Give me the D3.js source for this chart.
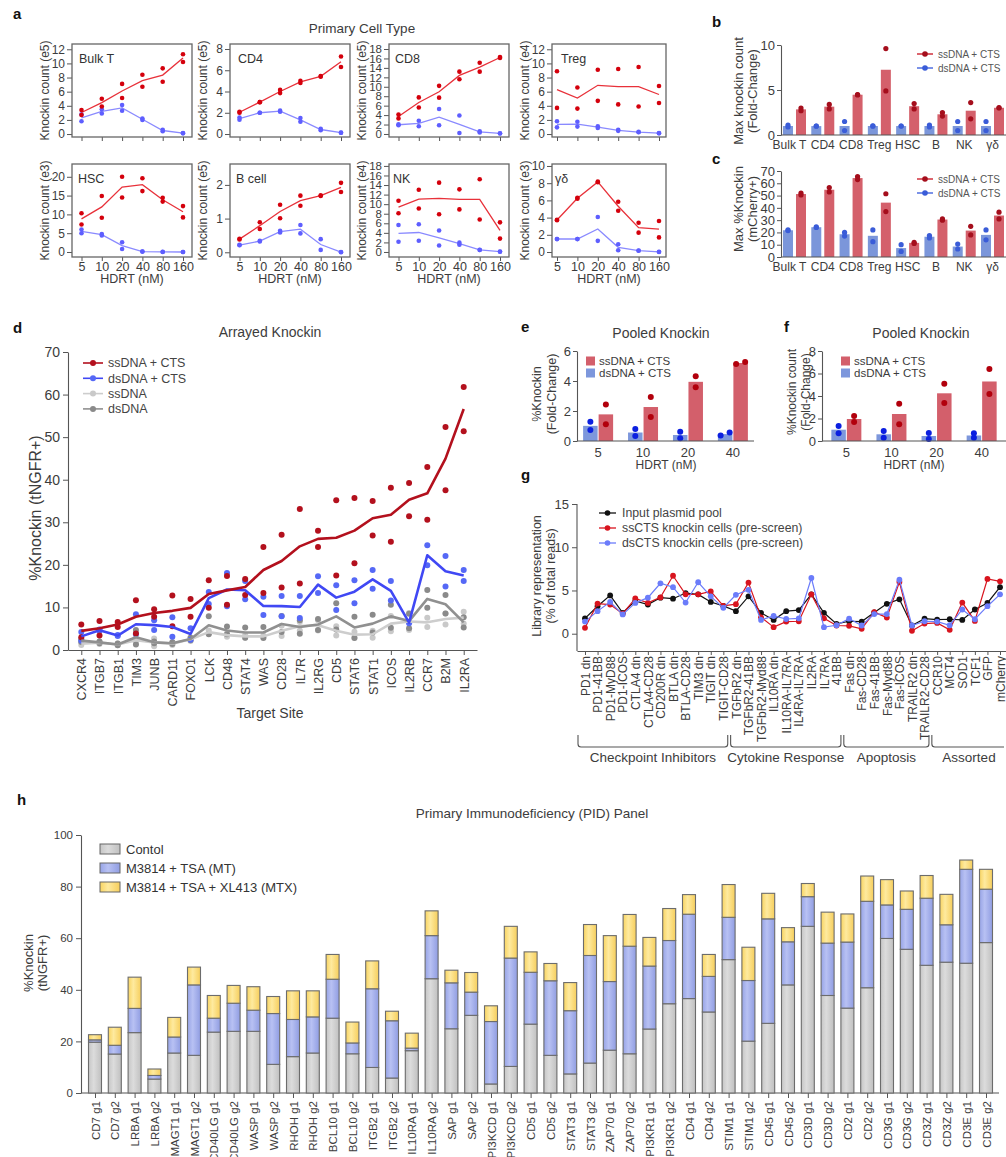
<!DOCTYPE html>
<html>
<head>
<meta charset="utf-8">
<script src="https://cdn.jsdelivr.net/npm/d3@7"></script>
<style>
  html, body { margin: 0; padding: 0; background: #fff; overflow: hidden; }
  svg { display: block; }
</style>
</head>
<body>
<svg id="fig" width="1006" height="1157"></svg>
<script>
// ===================== DATA =====================

// --- a: knockin counts by HDRT dose, two replicates per dose ---
const hdrtConc = ["5", "10", "20", "40", "80", "160"];
const cellTypes = ["Bulk T", "CD4", "CD8", "Treg", "HSC", "B cell", "NK", "γδ"];
const countScale = ["e5", "e5", "e5", "e4", "e3", "e5", "e4", "e3"];
const ssBulkT = [[3.4, 2.7], [5.0, 3.9], [7.1, 5.1], [8.4, 6.7], [9.3, 7.4], [11.3, 10.2]];
const dsBulkT = [[1.8, 2.8], [2.9, 3.5], [3.3, 4.1], [2.0, 2.2], [0.4, 0.6], [0.1, 0.15]];
const ssCD4 = [[2.1, 2.0], [3.0, 3.0], [4.15, 3.85], [5.0, 4.8], [5.4, 5.45], [7.3, 6.3]];
const dsCD4 = [[1.55, 1.35], [2.0, 2.0], [2.2, 2.1], [1.5, 1.15], [0.5, 0.35], [0.13, 0.12]];
const ssCD8 = [[4.1, 3.3], [7.75, 5.6], [10.2, 7.7], [13.2, 11.6], [15.1, 13.2], [16.3, 16.1]];
const dsCD8 = [[2.05, 1.85], [2.8, 1.65], [5.3, 1.85], [3.9, 0.2], [0.55, 0.3], [0.15, 0.1]];
const ssTreg = [[8.9, 3.7], [6.6, 3.6], [9.1, 4.7], [9.2, 4.2], [9.5, 3.9], [6.8, 4.4]];
const dsTreg = [[1.8, 0.95], [1.75, 1.05], [1.1, 0.85], [0.6, 0.45], [0.3, 0.25], [0.15, 0.1]];
const ssHSC = [[10.3, 7.3], [14.9, 9.1], [20.0, 14.5], [19.6, 16.2], [14.4, 13.4], [12.2, 9.2]];
const dsHSC = [[6.0, 5.0], [4.8, 4.4], [2.6, 0.8], [0.15, 0.1], [0.05, 0.0], [0.0, 0.0]];
const ssBcell = [[0.4, 0.38], [0.89, 0.69], [1.41, 1.01], [1.68, 1.38], [1.69, 1.67], [2.06, 1.79]];
const dsBcell = [[0.22, 0.21], [0.34, 0.32], [0.64, 0.59], [0.81, 0.56], [0.39, 0.07], [0.01, 0.0]];
const ssNK = [[10.7, 8.1], [13.0, 9.1], [14.5, 7.9], [13.1, 8.9], [15.2, 6.8], [6.2, 2.8]];
const dsNK = [[5.65, 2.15], [5.8, 2.35], [4.5, 1.35], [1.95, 1.5], [0.45, 0.4], [0.1, 0.05]];
const ssGD = [[3.75, 3.7], [6.3, 6.2], [8.2, 8.1], [5.85, 4.8], [3.4, 2.25], [3.6, 1.7]];
const dsGD = [[1.52, 1.5], [1.52, 1.5], [4.07, 1.3], [0.9, 0.2], [0.17, 0.14], [0.03, 0.0]];

// --- b / c: maximum knockin per cell type ---
const bcTypes = ["Bulk T", "CD4", "CD8", "Treg", "HSC", "B", "NK", "γδ"];
const foldSsReps = [[3.0, 2.7], [3.4, 2.9], [4.5, 4.45], [9.6, 4.9], [3.5, 2.9], [2.5, 2.1], [3.6, 1.8], [3.05, 3.0]];
const foldDsReps = [[1.1, 0.9], [1.0, 0.98], [1.5, 0.5], [1.02, 0.98], [1.0, 0.99], [1.1, 0.9], [1.5, 0.5], [1.5, 0.5]];
const pctSsReps = [[52, 50.5], [56.5, 53], [65.5, 63], [51.5, 37], [12, 11], [31, 30], [25, 18], [36.5, 31]];
const pctDsReps = [[22, 21.5], [24.5, 24], [20, 17], [22, 12.5], [10, 4.5], [17.5, 15.5], [10.5, 6.5], [22, 14]];

// --- d: arrayed knockin across target sites ---
const dTargets = ["CXCR4", "ITGB7", "ITGB1", "TIM3", "JUNB", "CARD11", "FOXO1", "LCK", "CD48", "STAT4", "WAS",
  "CD28", "IL7R", "IL2RG", "CD5", "STAT6", "STAT1", "ICOS", "IL2RB", "CCR7", "B2M", "IL2RA"];
const ssCtsKI = [[6.0, 3.0], [6.8, 3.4], [6.6, 5.4], [11.7, 3.9], [9.6, 7.8], [12.8, 5.6], [12.0, 7.8], [16.4, 9.9],
  [17.4, 10.6], [16.7, 12.9], [24.2, 13.4], [27.1, 14.7], [33.1, 15.6], [28.0, 24.2], [35.2, 17.5], [35.7, 20.4],
  [35.0, 26.9], [38.1, 25.4], [39.2, 31.4], [43.0, 30.6], [52.4, 37.5], [61.8, 51.4]];
const dsCtsKI = [[4.2, 2.2], [4.8, 4.5], [3.5, 3.3], [8.4, 3.7], [7.0, 4.7], [7.7, 3.1], [5.1, 2.4], [13.6, 10.8],
  [18.1, 10.3], [16.2, 11.9], [12.5, 8.2], [12.7, 7.9], [12.7, 7.5], [17.3, 13.4], [15.2, 9.4], [16.4, 11.0],
  [18.8, 14.4], [16.2, 11.6], [6.6, 6.3], [24.6, 19.9], [22.1, 14.9], [18.8, 16.2]];
const ssOnlyKI = [[1.8, 1.2], [2.0, 1.4], [1.5, 1.1], [2.8, 1.8], [2.7, 0.9], [1.8, 1.2], [2.9, 2.1], [4.6, 3.8],
  [3.9, 3.1], [3.5, 2.9], [3.4, 3.0], [5.7, 3.3], [6.6, 4.6], [7.0, 4.6], [5.6, 3.4], [4.3, 2.9], [4.5, 2.9],
  [8.0, 4.4], [8.7, 4.7], [7.6, 5.4], [8.6, 6.0], [9.0, 6.2]];
const dsOnlyKI = [[2.5, 1.9], [2.0, 1.6], [1.5, 1.1], [4.7, 1.3], [2.0, 1.6], [1.8, 1.4], [2.9, 2.3], [7.9, 3.7],
  [5.5, 3.7], [5.3, 2.9], [5.4, 2.8], [8.0, 4.2], [7.0, 3.8], [7.3, 4.7], [11.0, 4.8], [7.8, 2.8], [8.3, 4.1],
  [10.6, 5.2], [8.5, 5.1], [14.1, 9.9], [12.9, 8.6], [7.7, 5.3]];

// --- e / f: pooled knockin fold-change ---
const poolConc = ["5", "10", "20", "40"];
const poolPctSs = [[2.44, 1.11], [2.93, 1.6], [4.31, 3.58], [5.13, 5.27]];
const poolPctDs = [[1.29, 0.73], [0.8, 0.33], [0.62, 0.18], [0.36, 0.56]];
const poolCountSs = [[2.22, 1.69], [3.32, 1.48], [5.1, 3.38], [6.4, 4.18]];
const poolCountDs = [[1.33, 0.68], [0.89, 0.3], [0.71, 0.18], [0.68, 0.3]];

// --- g: library representation ---
const gConstructs = ["PD1 dn", "PD1-41BB", "PD1-MyD88", "PD1-ICOS", "CTLA4 dn", "CTLA4-CD28", "CD200R dn", "BTLA dn",
  "BTLA-CD28", "TIM3 dn", "TIGIT dn", "TIGIT-CD28", "TGFbR2 dn", "TGFbR2-41BB", "TGFbR2-Myd88", "IL10RA dn",
  "IL10RA-IL7RA", "IL4RA-IL7RA", "IL2RA", "IL7RA", "41BB", "Fas dn", "Fas-CD28", "Fas-41BB", "Fas-Myd88",
  "Fas-ICOS", "TRAILR2 dn", "TRAILR2-CD28", "CCR10", "MCT4", "SOD1", "TCF1", "GFP", "mCherry"];
const inputPool = [1.78, 3.18, 4.43, 2.42, 3.79, 3.37, 4.17, 4.05, 4.7, 4.55, 3.67, 3.22, 2.61, 4.32, 2.42, 1.59,
  2.61, 2.73, 4.55, 2.42, 1.14, 1.44, 1.4, 2.46, 3.45, 3.98, 0.95, 1.74, 1.63, 1.67, 1.59, 2.8, 3.56, 5.38];
const ssCtsPool = [0.68, 3.48, 3.37, 2.31, 4.09, 3.56, 4.2, 6.7, 4.55, 4.55, 4.89, 3.22, 3.41, 5.91, 1.89, 0.76,
  1.4, 1.44, 4.55, 1.78, 0.95, 0.91, 0.57, 2.5, 1.86, 5.98, 0.34, 1.17, 1.25, 0.45, 3.6, 1.48, 6.33, 6.06];
const dsCtsPool = [1.4, 2.61, 3.67, 2.23, 3.56, 4.17, 5.83, 5.38, 3.6, 5.95, 4.32, 2.99, 4.5, 5.08, 1.59, 2.05,
  1.7, 1.78, 6.44, 0.76, 0.98, 1.74, 0.95, 2.27, 2.27, 6.25, 0.95, 1.44, 1.4, 0.98, 2.8, 1.67, 3.18, 4.55];
const gGroups = ["Checkpoint Inhibitors", "Cytokine Response", "Apoptosis", "Assorted"];
const gGroupSpans = [[0, 11], [12, 20], [21, 27], [28, 33]];

// --- h: PID panel, cumulative knockin per condition ---
const pidGuides = ["CD7 g1", "CD7 g2", "LRBA g1", "LRBA g2", "MAGT1 g1", "MAGT1 g2", "CD40LG g1", "CD40LG g2",
  "WASP g1", "WASP g2", "RHOH g1", "RHOH g2", "BCL10 g1", "BCL10 g2", "ITGB2 g1", "ITGB2 g2", "IL10RA g1",
  "IL10RA g2", "SAP g1", "SAP g2", "PI3KCD g1", "PI3KCD g2", "CD5 g1", "CD5 g2", "STAT3 g1", "STAT3 g2",
  "ZAP70 g1", "ZAP70 g2", "PI3KR1 g1", "PI3KR1 g2", "CD4 g1", "CD4 g2", "STIM1 g1", "STIM1 g2", "CD45 g1",
  "CD45 g2", "CD3D g1", "CD3D g2", "CD2 g1", "CD2 g2", "CD3G g1", "CD3G g2", "CD3Z g1", "CD3Z g2", "CD3E g1", "CD3E g2"];
const pidControl = [19.7, 15.1, 23.4, 5.4, 15.5, 14.6, 23.6, 23.9, 23.9, 11.1, 14.1, 15.5, 29.0, 15.2, 9.9, 5.8,
  16.4, 44.3, 24.9, 30.1, 3.5, 10.3, 26.7, 14.6, 7.4, 11.6, 16.6, 15.2, 24.8, 34.6, 36.6, 31.4, 51.7, 20.1, 27.0,
  41.9, 64.6, 37.8, 32.9, 40.8, 59.9, 55.7, 49.5, 50.7, 50.3, 58.3];
const pidMT = [20.6, 18.5, 32.8, 6.8, 21.7, 41.9, 29.0, 34.8, 32.1, 30.8, 28.5, 29.5, 44.1, 19.4, 40.4, 28.0, 17.4,
  61.0, 42.7, 39.1, 27.7, 52.3, 46.8, 43.5, 31.9, 53.3, 43.2, 56.9, 49.2, 59.1, 69.3, 45.2, 68.1, 43.6, 67.5, 58.6,
  76.1, 58.1, 58.5, 74.3, 72.9, 71.2, 75.5, 65.2, 86.7, 79.0];
const pidMTX = [22.6, 25.5, 44.9, 9.3, 29.3, 48.8, 37.8, 41.7, 41.2, 37.4, 39.6, 39.6, 53.7, 27.5, 51.2, 31.7, 23.2,
  70.6, 47.6, 46.7, 33.8, 64.6, 54.7, 50.2, 42.8, 65.3, 61.0, 69.2, 60.3, 71.5, 76.9, 53.7, 80.8, 56.5, 77.4, 64.1,
  81.2, 70.1, 69.4, 84.1, 82.7, 78.3, 84.3, 77.0, 90.3, 86.7];
const pidConditions = ["Contol", "M3814 + TSA (MT)", "M3814 + TSA + XL413 (MTX)"];

// ===================== DRAWING =====================
const FONT = '"Liberation Sans", Arial, Helvetica, sans-serif';
const INK = "#3c3c3c";
const intFmt = d3.format("d");
const svg = d3.select("#fig").attr("font-family", FONT);

function label(parent, x, y, s, o = {}) {
  const t = parent.append("text").attr("x", x).attr("y", y).text(s)
    .attr("font-size", o.size || 12).attr("fill", o.fill || INK)
    .attr("text-anchor", o.anchor || "start");
  if (o.weight) t.attr("font-weight", o.weight);
  if (o.rotate) t.attr("transform", `rotate(-90,${x},${y})`).attr("dominant-baseline", "central");
  return t;
}
function styleAxis(g, size) {
  g.attr("font-family", FONT).attr("font-size", size);
  g.selectAll("text").attr("fill", INK);
  g.selectAll("line").attr("stroke", "#555").attr("stroke-width", 1);
  g.select(".domain").attr("stroke", "#555").attr("stroke-width", 1.1);
}
function rotateTickLabels(axisG, gap) {
  axisG.selectAll(".tick text")
    .attr("transform", "rotate(-90)").attr("x", -gap).attr("y", 0).attr("dy", "0.35em")
    .attr("text-anchor", "end");
}

// panel letters
[["a", 13, 19], ["b", 712, 27], ["c", 712, 164], ["d", 13, 333], ["e", 521, 332],
 ["f", 784, 332], ["g", 521, 480], ["h", 17, 805]].forEach(([s, x, y]) =>
  label(svg, x, y, s, { size: 15, weight: "bold", fill: "#111" }));

// ---------- a ----------
label(svg, 362, 33, "Primary Cell Type", { size: 13.5, anchor: "middle" });
const aPanels = [
  { ss: ssBulkT, ds: dsBulkT, top: 12, step: 2, dom: [-0.42, 12.75] },
  { ss: ssCD4, ds: dsCD4, top: 8, step: 2, dom: [-0.28, 8.47] },
  { ss: ssCD8, ds: dsCD8, top: 18, step: 2, dom: [-0.64, 19.06] },
  { ss: ssTreg, ds: dsTreg, top: 12, step: 2, dom: [-0.42, 12.75] },
  { ss: ssHSC, ds: dsHSC, top: 20, step: 5, dom: [-1.33, 23.4] },
  { ss: ssBcell, ds: dsBcell, top: 2, step: 1, dom: [-0.14, 2.62] },
  { ss: ssNK, ds: dsNK, top: 18, step: 2, dom: [-1.05, 18.4] },
  { ss: ssGD, ds: dsGD, top: 10, step: 2, dom: [-0.58, 10.23] }
];
const aCols = [72, 230, 389, 552], aWidths = [120, 120, 120, 114], aRows = [44, 164], aH = 93;
const aNameDx = [7, 8, 6, 9, 6, 6, 4, 3];

aPanels.forEach((p, i) => {
  const r = i < 4 ? 0 : 1, c = i % 4;
  const L = aCols[c], W = aWidths[c], T = aRows[r], B = T + aH;
  const x = d3.scalePoint(hdrtConc, c === 3 ? [L + 5, L + W - 7] : [L + 9.5, L + W - 9]);
  const y = d3.scaleLinear(p.dom, [B, T]);
  const g = svg.append("g");
  const dense = p.top / p.step > 7;

  const ya = g.append("g").attr("transform", `translate(${L},0)`)
    .call(d3.axisLeft(y).tickValues(d3.range(0, p.top + 1e-9, p.step)).tickFormat(intFmt)
      .tickSize(5).tickPadding(2));
  ya.select(".domain").remove();
  styleAxis(ya, dense ? 11.5 : 12);
  const xa = g.append("g").attr("transform", `translate(0,${B})`)
    .call(d3.axisBottom(x).tickSize(4).tickPadding(1.5).tickFormat(r ? d => d : () => ""));
  xa.select(".domain").remove();
  styleAxis(xa, 12.5);

  g.append("rect").attr("x", L).attr("y", T).attr("width", W).attr("height", aH)
    .attr("fill", "none").attr("stroke", "#666").attr("stroke-width", 1.3);

  label(g, L - 27, T + aH / 2, `Knockin count (${countScale[i]})`, { size: 12, anchor: "middle", rotate: true });
  label(g, L + aNameDx[i], T + 19, cellTypes[i], { size: 12.5, fill: "#333" });
  if (r) label(g, L + W / 2, B + 26, "HDRT (nM)", { size: 12.5, anchor: "middle" });

  const series = [
    { reps: p.ds, line: "#8a8aff", dot: "#5e5eff" },
    { reps: p.ss, line: "#e8313a", dot: "#d4000c" }
  ];
  series.forEach(s => {
    g.append("path").datum(s.reps)
      .attr("d", d3.line().x((d, j) => x(hdrtConc[j])).y(d => y(d3.mean(d))))
      .attr("fill", "none").attr("stroke", s.line).attr("stroke-width", 1.3);
    s.reps.forEach((rep, j) => rep.forEach(v =>
      g.append("circle").attr("cx", x(hdrtConc[j])).attr("cy", y(v)).attr("r", 2.3).attr("fill", s.dot)));
  });
});

// ---------- generic grouped bar + replicate dots ----------
function barPanel(o) {
  const g = svg.append("g");
  const x = d3.scalePoint(o.cats, o.xr).padding(o.pad);
  const y = d3.scaleLinear(o.yd, o.yr);
  const series = [
    { reps: o.ds, bar: o.dsBar, dot: o.dsDot, side: -1 },
    { reps: o.ss, bar: o.ssBar, dot: o.ssDot, side: 1 }
  ];
  series.forEach(s => {
    s.reps.forEach((rep, i) => {
      const cx = x(o.cats[i]) + s.side * (o.gap + o.bw / 2);
      const m = d3.mean(rep);
      g.append("rect").attr("x", cx - o.bw / 2).attr("width", o.bw)
        .attr("y", y(m)).attr("height", y(0) - y(m)).attr("fill", s.bar);
    });
  });
  series.forEach(s => {
    s.reps.forEach((rep, i) => {
      const cx = x(o.cats[i]) + s.side * (o.gap + o.bw / 2);
      const close = Math.abs(y(rep[0]) - y(rep[1])) < o.dodge;
      rep.forEach((v, k) => g.append("circle")
        .attr("cx", cx + (close ? (k ? o.dodgeDx : -o.dodgeDx) : 0))
        .attr("cy", y(v)).attr("r", o.r).attr("fill", s.dot));
    });
  });
  const ya = g.append("g").attr("transform", `translate(${o.xr[0]},0)`)
    .call(d3.axisLeft(y).tickValues(o.ticks).tickFormat(intFmt).tickSize(4).tickSizeOuter(0).tickPadding(2));
  styleAxis(ya, o.tickSize);
  g.append("line").attr("x1", o.xr[0]).attr("x2", o.xr[1]).attr("y1", y(0)).attr("y2", y(0))
    .attr("stroke", "#555").attr("stroke-width", 1.1);
  o.cats.forEach((c, i) => label(g, x(c) + (o.catDx ? o.catDx[i] : 0), o.catY, c,
    { size: o.catSize, anchor: "middle" }));
  return g;
}
function lineLegend(g, x, ys, items, size) {
  items.forEach((it, i) => {
    g.append("line").attr("x1", x).attr("x2", x + 16).attr("y1", ys[i]).attr("y2", ys[i])
      .attr("stroke", it.line).attr("stroke-width", 1.5);
    g.append("circle").attr("cx", x + 8).attr("cy", ys[i]).attr("r", 2.8).attr("fill", it.dot);
    label(g, x + 21, ys[i] + size * 0.36, it.name, { size, fill: it.text || "#555" });
  });
}
function swatchLegend(g, x, ys, items, o) {
  items.forEach((it, i) => {
    g.append("rect").attr("x", x).attr("y", ys[i] - o.h / 2).attr("width", o.w).attr("height", o.h)
      .attr("fill", it.fill).attr("stroke", it.stroke || "none").attr("stroke-width", 1);
    label(g, x + o.w + o.gap, ys[i] + o.size * 0.36, it.name, { size: o.size, fill: o.fill || INK });
  });
}

// ---------- b ----------
const BC = { cats: bcTypes, xr: [781, 1006], pad: 0.477, bw: 10, gap: 1.5, r: 2.6, dodge: 0, dodgeDx: 0,
  dsBar: "#7b96da", ssBar: "#d4606b", dsDot: "#3a5cd8", ssDot: "#a50e1c", catSize: 12, tickSize: 13,
  catDx: [-5, 0, 0, 0, 0, 0, 0, 0] };
const bcLegend = [
  { name: "ssDNA + CTS", line: "#d0303c", dot: "#a50e1c" },
  { name: "dsDNA + CTS", line: "#4f6ee0", dot: "#3a5cd8" }];
const gb = barPanel(Object.assign({}, BC, { ss: foldSsReps, ds: foldDsReps, yd: [0, 10], yr: [135, 45],
  ticks: [0, 5, 10], catY: 149 }));
label(gb, 738, 91, "Max knockin count", { size: 13, anchor: "middle", rotate: true });
label(gb, 752, 91, "(Fold-Change)", { size: 13, anchor: "middle", rotate: true });
lineLegend(gb, 917, [54, 68], bcLegend, 10);

// ---------- c ----------
const gc = barPanel(Object.assign({}, BC, { ss: pctSsReps, ds: pctDsReps, yd: [0, 70], yr: [257, 171],
  ticks: d3.range(0, 71, 10), catY: 271 }));
label(gc, 738, 209, "Max %Knockin", { size: 13, anchor: "middle", rotate: true });
label(gc, 752, 209, "(mCherry+)", { size: 13, anchor: "middle", rotate: true });
lineLegend(gc, 917, [179, 193], bcLegend, 10);

// ---------- d ----------
{
  const g = svg.append("g");
  const x = d3.scalePoint(dTargets, [68, 477]).padding(0.73);
  const y = d3.scaleLinear([0, 70], [650, 352]);
  label(g, 270, 337, "Arrayed Knockin", { size: 14, anchor: "middle" });
  const ya = g.append("g").attr("transform", "translate(68,0)")
    .call(d3.axisLeft(y).tickValues(d3.range(0, 71, 10)).tickFormat(intFmt).tickSize(5).tickSizeOuter(0).tickPadding(3));
  styleAxis(ya, 14);
  const xa = g.append("g").attr("transform", "translate(0,650)")
    .call(d3.axisBottom(x).tickSize(5).tickSizeOuter(0));
  styleAxis(xa, 12.5);
  rotateTickLabels(xa, 8);
  label(g, 35, 508, "%Knockin (tNGFR+)", { size: 16, anchor: "middle", rotate: true });
  label(g, 270, 718, "Target Site", { size: 14, anchor: "middle" });

  const dSeries = [
    { reps: ssOnlyKI, line: "#cdcdcd", dot: "#c9c9c9", name: "ssDNA" },
    { reps: dsOnlyKI, line: "#909090", dot: "#8a8a8a", name: "dsDNA" },
    { reps: dsCtsKI, line: "#4048f4", dot: "#5568f6", name: "dsDNA + CTS" },
    { reps: ssCtsKI, line: "#b3101d", dot: "#b3101d", name: "ssDNA + CTS" }
  ];
  dSeries.forEach(s => {
    s.reps.forEach((rep, j) => rep.forEach(v =>
      g.append("circle").attr("cx", x(dTargets[j])).attr("cy", y(v)).attr("r", 3).attr("fill", s.dot)));
  });
  dSeries.forEach(s => {
    g.append("path").datum(s.reps)
      .attr("d", d3.line().x((d, j) => x(dTargets[j])).y(d => y(d3.mean(d))))
      .attr("fill", "none").attr("stroke", s.line).attr("stroke-width", 2.6).attr("stroke-linejoin", "round");
  });
  const legendOrder = [dSeries[3], dSeries[2], dSeries[0], dSeries[1]];
  legendOrder.forEach((s, i) => {
    const yy = 363 + i * 15.3;
    g.append("line").attr("x1", 83).attr("x2", 103).attr("y1", yy).attr("y2", yy)
      .attr("stroke", s.line).attr("stroke-width", 1.6);
    g.append("circle").attr("cx", 93).attr("cy", yy).attr("r", 3).attr("fill", s.dot);
    label(g, 108, yy + 4.4, s.name, { size: 12.5, fill: "#444" });
  });
}

// ---------- e / f ----------
const EF = { cats: poolConc, pad: 0.47, bw: 14.5, gap: 0.5, r: 3, dodge: 3.5, dodgeDx: 4.5,
  dsBar: "#7d97dc", ssBar: "#d35f6b", dsDot: "#0b1fe0", ssDot: "#b2000c", catSize: 13, tickSize: 13,
  yr: [441, 351], catY: 457 };
const legendEF = [
  { name: "ssDNA + CTS", fill: "#d35f6b" },
  { name: "dsDNA + CTS", fill: "#7d97dc" }];

const ge = barPanel(Object.assign({}, EF, { ss: poolPctSs, ds: poolPctDs, xr: [577, 754], yd: [0, 6],
  ticks: [0, 2, 4, 6] }));
label(ge, 661, 338, "Pooled Knockin", { size: 14, anchor: "middle" });
label(ge, 666, 468.5, "HDRT (nM)", { size: 12, anchor: "middle" });
label(ge, 537, 394, "%Knockin", { size: 12.5, anchor: "middle", rotate: true });
label(ge, 552, 394, "(Fold-Change)", { size: 12.5, anchor: "middle", rotate: true });
swatchLegend(ge, 586, [361, 373], legendEF, { w: 9, h: 9, gap: 4, size: 11.5 });

const gf = barPanel(Object.assign({}, EF, { ss: poolCountSs, ds: poolCountDs, xr: [822, 1006], pad: 0.54,
  yd: [0, 8], ticks: [0, 2, 4, 6, 8] }));
label(gf, 921, 338, "Pooled Knockin", { size: 14, anchor: "middle" });
label(gf, 914, 468.5, "HDRT (nM)", { size: 12, anchor: "middle" });
label(gf, 792, 392, "%Knockin count", { size: 12, anchor: "middle", rotate: true });
label(gf, 806, 392, "(Fold-Change)", { size: 12, anchor: "middle", rotate: true });
swatchLegend(gf, 841, [361, 373], legendEF, { w: 9, h: 9, gap: 4, size: 11.5 });

// ---------- g ----------
{
  const g = svg.append("g");
  const x = d3.scalePoint(gConstructs, [577, 1008]).padding(0.635);
  const y = d3.scaleLinear([-2, 15], [651, 504]);
  const ya = g.append("g").attr("transform", "translate(577,0)")
    .call(d3.axisLeft(y).tickValues([0, 5, 10, 15]).tickFormat(intFmt).tickSize(5).tickSizeOuter(0).tickPadding(3));
  ya.select(".domain").attr("d", `M0,${y(15)}V${y(-2)}`);
  styleAxis(ya, 13);
  const xa = g.append("g").attr("transform", "translate(0,651)")
    .call(d3.axisBottom(x).tickSize(4).tickSizeOuter(0));
  styleAxis(xa, 12);
  rotateTickLabels(xa, 5);
  label(g, 537, 576, "Library representation", { size: 12.5, anchor: "middle", rotate: true });
  label(g, 551, 576, "(% of total reads)", { size: 12.5, anchor: "middle", rotate: true });

  const gSeries = [
    { vals: inputPool, color: "#111111", name: "Input plasmid pool" },
    { vals: ssCtsPool, color: "#d8141e", name: "ssCTS knockin cells (pre-screen)" },
    { vals: dsCtsPool, color: "#6b7cfa", name: "dsCTS knockin cells (pre-screen)" }
  ];
  gSeries.forEach(s => {
    g.append("path").datum(s.vals)
      .attr("d", d3.line().x((d, j) => x(gConstructs[j])).y(d => y(d)))
      .attr("fill", "none").attr("stroke", s.color).attr("stroke-width", 1.2);
    s.vals.forEach((v, j) => g.append("circle").attr("cx", x(gConstructs[j])).attr("cy", y(v))
      .attr("r", 2.9).attr("fill", s.color));
  });
  gSeries.forEach((s, i) => {
    const yy = 513 + i * 15;
    g.append("line").attr("x1", 599).attr("x2", 616).attr("y1", yy).attr("y2", yy)
      .attr("stroke", s.color).attr("stroke-width", 1.3);
    g.append("circle").attr("cx", 607.5).attr("cy", yy).attr("r", 2.8).attr("fill", s.color);
    label(g, 622, yy + 4.4, s.name, { size: 12.3, fill: "#444" });
  });

  const step = x.step();
  gGroupSpans.forEach(([a, b], i) => {
    const x1 = i === 0 ? 578 : x(gConstructs[a]) - step * 0.42;
    const x2 = Math.min(x(gConstructs[b]) + step * 0.35, 1004);
    const open = x(gConstructs[b]) + step * 0.35 > 1004;
    const yT = 735, yB = 747, rr = 3;
    const d = `M${x1},${yT}V${yB - rr}Q${x1},${yB} ${x1 + rr},${yB}H${open ? x2 : x2 - rr}` +
      (open ? "" : `Q${x2},${yB} ${x2},${yB - rr}V${yT}`);
    g.append("path").attr("d", d).attr("fill", "none").attr("stroke", "#555").attr("stroke-width", 1.1);
    const cx = i === 3 ? 969 : (x1 + x2) / 2;
    label(g, cx, 762, gGroups[i], { size: 13.5, anchor: "middle" });
  });
}

// ---------- h ----------
{
  const g = svg.append("g");
  const defs = svg.append("defs");
  const grad = (id, stops) => {
    const lg = defs.append("linearGradient").attr("id", id).attr("x1", "0").attr("x2", "1").attr("y1", "0").attr("y2", "0");
    stops.forEach(([o, c]) => lg.append("stop").attr("offset", o).attr("stop-color", c));
  };
  grad("gGray", [["0", "#c6c6c6"], ["0.4", "#dcdcdc"], ["1", "#c0c0c0"]]);
  grad("gBlue", [["0", "#97a4e6"], ["0.4", "#b8c1f3"], ["1", "#909de2"]]);
  grad("gYellow", [["0", "#f8d462"], ["0.4", "#feea9f"], ["1", "#f6ce5c"]]);
  const fills = ["url(#gGray)", "url(#gBlue)", "url(#gYellow)"];

  const x = d3.scalePoint(pidGuides, [81, 1000]).padding(0.707);
  const y = d3.scaleLinear([0, 100], [1093, 835]);
  label(g, 532, 818, "Primary Immunodeficiency (PID) Panel", { size: 13.5, anchor: "middle" });
  const ya = g.append("g").attr("transform", "translate(81,0)")
    .call(d3.axisLeft(y).tickValues(d3.range(0, 101, 20)).tickFormat(intFmt).tickSize(5).tickSizeOuter(0).tickPadding(3));
  styleAxis(ya, 11.5);
  const xa = g.append("g").attr("transform", "translate(0,1093)")
    .call(d3.axisBottom(x).tickSize(5).tickSizeOuter(0));
  xa.select(".domain").attr("d", "M81,0H999");
  styleAxis(xa, 11.5);
  rotateTickLabels(xa, 8);
  label(g, 28, 963, "%Knockin", { size: 13, anchor: "middle", rotate: true });
  label(g, 42, 963, "(tNGFR+)", { size: 13, anchor: "middle", rotate: true });

  const bw = 13;
  pidGuides.forEach((name, i) => {
    const segs = [[0, pidControl[i]], [pidControl[i], pidMT[i]], [pidMT[i], pidMTX[i]]];
    segs.forEach(([a, b], k) => {
      g.append("rect").attr("x", x(name) - bw / 2).attr("width", bw)
        .attr("y", y(b)).attr("height", Math.max(0, y(a) - y(b)))
        .attr("fill", fills[k]).attr("stroke", "#6c6c6c").attr("stroke-width", 1.1);
    });
  });
  swatchLegend(g, 100, [849, 868, 887], pidConditions.map((n, k) => ({ name: n, fill: fills[k], stroke: "#666" })),
    { w: 20, h: 10, gap: 6, size: 13, fill: "#333" });
}
</script>
</body>
</html>
